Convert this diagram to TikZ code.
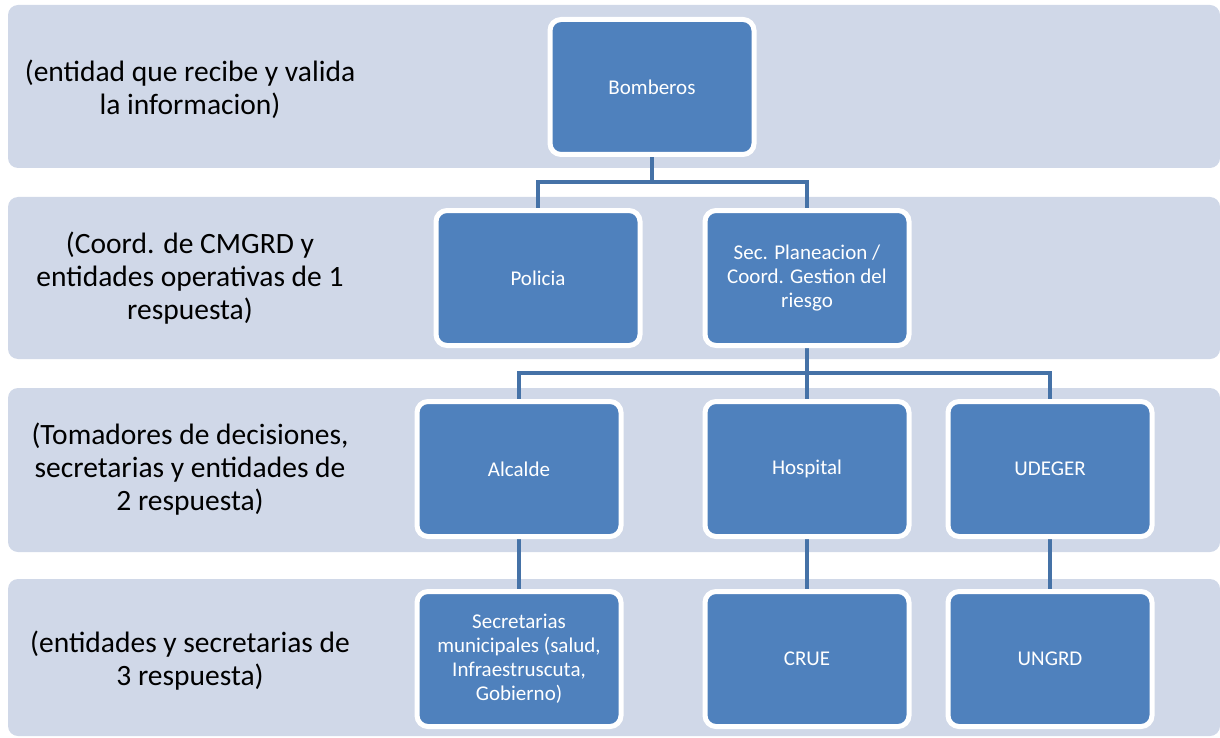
\documentclass[tikz,border=0pt]{standalone}
\usepackage{fontspec}
\setmainfont{Carlito}
\usetikzlibrary{positioning, calc, backgrounds}

\definecolor{bandfill}{RGB}{208,216,232}
\definecolor{boxfill}{RGB}{79,129,189}
\definecolor{linkcol}{RGB}{69,114,167}

\begin{document}
\begin{tikzpicture}[
        x=1pt, y=-1pt,
        band/.style={fill=bandfill, rounded corners=10pt},
        lbl/.style={align=center, font=\fontsize{29.5}{33}\selectfont, text=black},
        box/.style={rectangle, draw=white, line width=5pt, fill=boxfill, rounded corners=11pt, minimum width=204pt, minimum height=135pt, align=center, text=white, font=\fontsize{21}{24}\selectfont},
        link/.style={draw=linkcol, line width=4.5pt}
    ]
        \useasboundingbox (0,0) rectangle (1220,738);
        \begin{pgfonlayer}{background}
            \fill[band] (8,5) rectangle (1220,168);
            \fill[band] (8,197) rectangle (1220,359);
            \fill[band] (8,388) rectangle (1220,552);
            \fill[band] (8,579) rectangle (1220,736);
        \end{pgfonlayer}

        \node[lbl] (lab1) at (190,89) {(entidad que recibe y valida\\la informacion)};
        \node[lbl] (lab2) at (190,278) {(Coord. de CMGRD y\\entidades operativas de 1\\respuesta)};
        \node[lbl] (lab3) at (190,469) {(Tomadores de decisiones,\\secretarias y entidades de\\2 respuesta)};
        \node[lbl] (lab4) at (190,661) {(entidades y secretarias de\\3 respuesta)};

        \node[box] (bomberos) at (652,87) {Bomberos};
        \node[box] (secplan) at (807,278) {Sec. Planeacion /\\Coord. Gestion del\\riesgo};
        \node[box, left=60pt of secplan] (policia) {Policia};
        \node[box, below=51pt of secplan] (hospital) {Hospital};
        \node[box, left=79pt of hospital] (alcalde) {Alcalde};
        \node[box, right=34pt of hospital] (udeger) {UDEGER};
        \node[box, below=50pt of alcalde] (secretarias) {Secretarias\\municipales (salud,\\Infraestruscuta,\\Gobierno)};
        \node[box, below=50pt of hospital] (crue) {CRUE};
        \node[box, below=50pt of udeger] (ungrd) {UNGRD};

        \coordinate (j1) at ($(bomberos.south)+(0,25)$);
        \coordinate (j2) at ($(secplan.south)+(0,25)$);
        \begin{pgfonlayer}{background}
            \draw[link] (bomberos.south) -- (j1);
            \draw[link] (policia.north) |- (j1) -| (secplan.north);
            \draw[link] (secplan.south) -- (j2);
            \draw[link] (alcalde.north) |- (j2) -| (udeger.north);
            \draw[link] (j2) -- (hospital.north);
            \draw[link] (alcalde.south) -- (secretarias.north);
            \draw[link] (hospital.south) -- (crue.north);
            \draw[link] (udeger.south) -- (ungrd.north);
        \end{pgfonlayer}
    \end{tikzpicture}
\end{document}
